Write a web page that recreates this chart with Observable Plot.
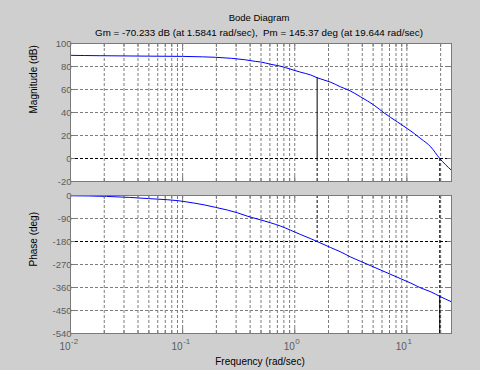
<!DOCTYPE html>
<html>
<head>
<meta charset="utf-8">
<script src="https://cdn.jsdelivr.net/npm/d3@7"></script>
<script src="https://cdn.jsdelivr.net/npm/@observablehq/plot@0.6"></script>
<style>
  html, body { margin: 0; padding: 0; background: #cfcfcf; }
  #wrap { position: relative; width: 480px; height: 370px; background: #cfcfcf; overflow: hidden; }
  #wrap svg { position: absolute; left: 0; display: block; }
</style>
</head>
<body>
<div id="wrap"></div>
<script>
// ---- data ----
const magFreq = [0.01, 0.018, 0.05, 0.1, 0.15, 0.197, 0.274, 0.358, 0.449, 0.497, 0.611, 0.750, 0.921, 1.132, 1.389, 1.5841, 2.096, 2.575, 3.05, 3.88, 5.11, 6.27, 8.26, 10.14, 13.34, 16.37, 19.644, 25];
const magDb   = [89.7, 89.4, 89.0, 88.8, 88.4, 88.0, 87.1, 85.9, 84.4, 83.9, 81.9, 80.2, 77.6, 75.0, 72.6, 70.2, 66.3, 62.2, 59.3, 53.5, 46.3, 39.6, 31.7, 25.9, 17.2, 10.0, 0, -10.3];

const phaseFreq = [0.01, 0.0209, 0.0336, 0.0492, 0.0729, 0.0897, 0.1026, 0.126, 0.155, 0.197, 0.251, 0.308, 0.377, 0.497, 0.611, 0.750, 0.921, 1.132, 1.389, 1.5841, 2.096, 2.575, 3.162, 3.88, 4.77, 5.86, 7.20, 8.84, 10.86, 13.34, 16.37, 19.644, 25];
const phaseDeg  = [-1, -3.5, -7.5, -12, -16.5, -20, -23.5, -29.5, -36.5, -46.5, -57, -67.6, -80.8, -95.5, -107, -120, -136, -153, -169, -180, -204, -221, -241, -258, -275, -292, -309, -326, -343, -362, -377, -394.6, -416];

const gmFreq = 1.5841, gmMagDb = 70.233;      // phase crossover
const pmFreq = 19.644, pmPhaseDeg = -394.63;  // gain crossover
const phaseRef = [-180, -540];

const magTicks = [100, 80, 60, 40, 20, 0, -20];
const phaseTicks = [0, -90, -180, -270, -360, -450, -540];
const decadeTicks = [0.01, 0.1, 1, 10];
const decadeExp = ["-2", "-1", "0", "1"];
const minorFreqs = [0.02, 0.03, 0.04, 0.05, 0.06, 0.07, 0.08, 0.09,
                    0.2, 0.3, 0.4, 0.5, 0.6, 0.7, 0.8, 0.9,
                    2, 3, 4, 5, 6, 7, 8, 9, 20];
const xDomain = [0.01, 25];

const titleText = "Bode Diagram";
const subtitleText = "Gm = -70.233 dB (at 1.5841 rad/sec),\u00a0\u00a0Pm = 145.37 deg (at 19.644 rad/sec)";
const magLabel = "Magnitude (dB)";
const phaseLabel = "Phase (deg)";
const freqLabel = "Frequency (rad/sec)";

// ---- styles ----
const FONT = "'Liberation Sans', Arial, Helvetica, sans-serif";
const GRID = "#7c7c7c";
const TICKTXT = "#5c5c5c";
const FRAME = "#7a7a7a";
const BLUE = "#0000ff";
const DASH = "3,2";

const magData = magFreq.map((f, i) => ({f, v: magDb[i]}));
const phaseData = phaseFreq.map((f, i) => ({f, v: phaseDeg[i]}));
const allGrid = decadeTicks.concat(minorFreqs);

function inwardTicks(yTicks) {
  return [
    Plot.axisX(decadeTicks, {anchor: "bottom", tickSize: -5, fill: "none", stroke: FRAME, label: null}),
    Plot.axisX(decadeTicks, {anchor: "top", tickSize: -5, fill: "none", stroke: FRAME, label: null}),
    Plot.axisX(minorFreqs, {anchor: "bottom", tickSize: -3, fill: "none", stroke: FRAME, label: null}),
    Plot.axisX(minorFreqs, {anchor: "top", tickSize: -3, fill: "none", stroke: FRAME, label: null}),
    Plot.axisY(yTicks, {anchor: "right", tickSize: -5, fill: "none", stroke: FRAME, label: null})
  ];
}

const topPlot = Plot.plot({
  width: 480, height: 190,
  marginTop: 43, marginBottom: 9, marginLeft: 70, marginRight: 29,
  style: {background: "transparent", fontFamily: FONT, fontSize: "9.5px", overflow: "visible"},
  x: {type: "log", domain: xDomain, axis: null},
  y: {domain: [-20, 100], axis: null},
  marks: [
    Plot.frame({fill: "white", stroke: null}),
    Plot.gridX(allGrid, {stroke: GRID, strokeOpacity: 1, strokeDasharray: DASH}),
    Plot.gridY(magTicks, {stroke: GRID, strokeOpacity: 1, strokeDasharray: DASH}),
    Plot.ruleY([0], {stroke: "black", strokeDasharray: DASH}),
    Plot.ruleX([gmFreq, pmFreq], {x: d => d, y1: -20, y2: 0, stroke: "black", strokeDasharray: DASH}),
    Plot.ruleX([gmFreq], {x: d => d, y1: 0, y2: gmMagDb, stroke: "black"}),
    Plot.line(magData, {x: "f", y: "v", stroke: BLUE, strokeWidth: 1, curve: "monotone-x"}),
    Plot.axisY(magTicks, {anchor: "left", tickSize: -5, tickPadding: 4, color: TICKTXT, stroke: FRAME, fontSize: 9.5, tickFormat: d => String(d), label: null}),
    ...inwardTicks(magTicks),
    Plot.frame({stroke: FRAME}),
    Plot.text([titleText], {frameAnchor: "top", dx: -2, dy: -23, lineAnchor: "bottom", fill: "black", fontSize: 9.5}),
    Plot.text([subtitleText], {frameAnchor: "top", dx: -2, dy: -8, lineAnchor: "bottom", fill: "black", fontSize: 9.8}),
    Plot.text([magLabel], {frameAnchor: "left", rotate: -90, dx: -34, dy: 1, lineAnchor: "bottom", fill: "black", fontSize: 10})
  ]
});

const bottomPlot = Plot.plot({
  width: 480, height: 180,
  marginTop: 5, marginBottom: 37, marginLeft: 70, marginRight: 29,
  style: {background: "transparent", fontFamily: FONT, fontSize: "9.5px", overflow: "visible"},
  x: {type: "log", domain: xDomain, axis: null},
  y: {domain: [-540, 0], axis: null},
  marks: [
    Plot.frame({fill: "white", stroke: null}),
    Plot.gridX(allGrid, {stroke: GRID, strokeOpacity: 1, strokeDasharray: DASH}),
    Plot.gridY(phaseTicks, {stroke: GRID, strokeOpacity: 1, strokeDasharray: DASH}),
    Plot.ruleY(phaseRef, {stroke: "black", strokeDasharray: DASH}),
    Plot.ruleX([gmFreq], {x: d => d, y1: 0, y2: phaseRef[0], stroke: "black", strokeDasharray: DASH}),
    Plot.ruleX([pmFreq], {x: d => d, y1: 0, y2: phaseRef[1], stroke: "black", strokeDasharray: DASH}),
    Plot.ruleX([pmFreq], {x: d => d, y1: phaseRef[1], y2: pmPhaseDeg, stroke: "black"}),
    Plot.line(phaseData, {x: "f", y: "v", stroke: BLUE, strokeWidth: 1, curve: "monotone-x"}),
    Plot.axisY(phaseTicks, {anchor: "left", tickSize: -5, tickPadding: 4, color: TICKTXT, stroke: FRAME, fontSize: 9.5, tickFormat: d => String(d), label: null}),
    ...inwardTicks(phaseTicks),
    Plot.frame({stroke: FRAME}),
    Plot.text(decadeTicks, {x: d => d, text: () => "10", frameAnchor: "bottom", dy: 16.5, textAnchor: "end", lineAnchor: "bottom", fill: TICKTXT, fontSize: 10}),
    Plot.text(decadeTicks, {x: d => d, text: (d, i) => decadeExp[i], frameAnchor: "bottom", dx: 0.5, dy: 10.5, textAnchor: "start", lineAnchor: "bottom", fill: TICKTXT, fontSize: 8}),
    Plot.text([freqLabel], {frameAnchor: "bottom", dx: -1, dy: 31, lineAnchor: "bottom", fill: "black", fontSize: 10}),
    Plot.text([phaseLabel], {frameAnchor: "left", rotate: -90, dx: -34, dy: 2, lineAnchor: "bottom", fill: "black", fontSize: 10})
  ]
});

topPlot.style.top = "0px";
bottomPlot.style.top = "190px";
const wrap = document.getElementById("wrap");
wrap.appendChild(topPlot);
wrap.appendChild(bottomPlot);
</script>
</body>
</html>
